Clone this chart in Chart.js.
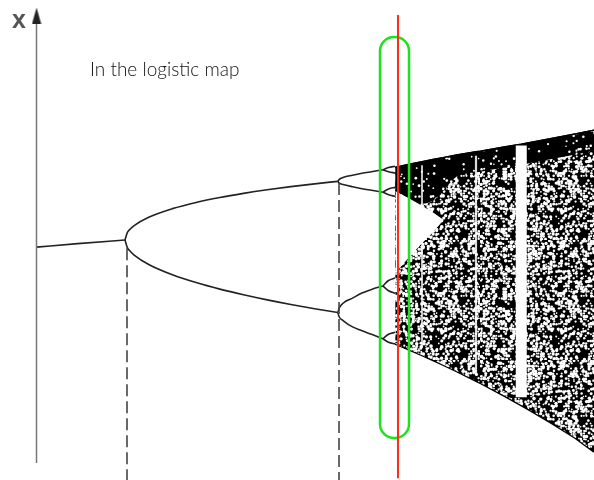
<!DOCTYPE html>
<html>
<head>
<meta charset="utf-8">
<script src="https://cdn.jsdelivr.net/npm/chart.js@4.4.1/dist/chart.umd.min.js"></script>
<style>
  html, body { margin: 0; padding: 0; background: #fff; }
  #wrap { width: 594px; height: 480px; }
</style>
</head>
<body>
<div id="wrap"><canvas id="bifurcation" width="594" height="480"></canvas></div>
<script>
// growth rate r on the horizontal, long-run value x on the vertical
const rPeriod1 = [2.8133, 2.9, 3.0];
const xPeriod1 = [0.6444, 0.6552, 0.6667];

const rPeriod2 = [3.0, 3.005, 3.01, 3.02, 3.05, 3.1, 3.15, 3.2, 3.25, 3.3, 3.35, 3.4, 3.449];
const xPeriod2Upper = [0.6667, 0.6899, 0.6994, 0.7125, 0.7377, 0.7646, 0.784, 0.7995, 0.8124, 0.8236, 0.8334, 0.8421, 0.8499];
const xPeriod2Lower = [0.6667, 0.6428, 0.6329, 0.6186, 0.5902, 0.558, 0.5335, 0.513, 0.4953, 0.4794, 0.4651, 0.452, 0.4401];

const rPeriod4 = [3.449, 3.452, 3.46, 3.48, 3.5, 3.52, 3.544];
const xPeriod4A = [0.8499, 0.856, 0.862, 0.869, 0.875, 0.88, 0.886];
const xPeriod4B = [0.8499, 0.844, 0.84, 0.833, 0.827, 0.822, 0.816];
const xPeriod4C = [0.4401, 0.454, 0.469, 0.485, 0.501, 0.512, 0.523];
const xPeriod4D = [0.4401, 0.426, 0.415, 0.395, 0.383, 0.372, 0.358];

const rPeriod8 = [3.544, 3.556, 3.57];
const xPeriod8 = [
  [0.886, 0.893, 0.897], [0.886, 0.88, 0.876],
  [0.816, 0.826, 0.831], [0.816, 0.808, 0.803],
  [0.523, 0.54, 0.548], [0.523, 0.508, 0.5],
  [0.358, 0.372, 0.378], [0.358, 0.347, 0.342]
];

// chaotic region: outer envelope
const rChaos = [3.57, 3.6, 3.627, 3.65, 3.671, 3.7, 3.741, 3.75, 3.8, 3.836, 3.85, 3.9, 3.95, 3.99];
const xChaosTop = [0.893, 0.903, 0.911, 0.918, 0.924, 0.932, 0.942, 0.944, 0.957, 0.966, 0.97, 0.984, 0.998, 1.01];
const xChaosBottom = [0.3425, 0.324, 0.3067, 0.2914, 0.2771, 0.2567, 0.2265, 0.2197, 0.1805, 0.1508, 0.139, 0.0951, 0.0488, 0.005];
const xDenseBottom = [0.8, 0.785, 0.78, 0.79, 0.82, 0.865, 0.878, 0.88, 0.893, 0.902, 0.906, 0.92, 0.934, 0.946];

// gap between the two chaotic bands before they merge
const rGap = [3.571, 3.597, 3.622, 3.648, 3.671];
const xGapTop = [0.817, 0.797, 0.776, 0.753, 0.729];
const xGapBottom = [0.567, 0.61, 0.651, 0.69, 0.729];

// periodic windows inside the chaos
const rWindows = [3.6266, 3.7405, 3.836];
const xWindowTop = [0.9, 0.93, 0.962];
const xWindowBottom = [0.33, 0.245, 0.175];
const windowWidths = [1.8, 2.2, 11];

// period-doubling points marked with dashed drops
const rDoubling = [3.0042, 3.4515];
const xDoubling = [0.641, 0.845];

const rCut = 3.5759;
const lens = { r0: 3.538, r1: 3.5992, top: 1.301, bottom: 0.048 };

const pts = (rs, xs) => rs.map((r, i) => ({ x: r, y: xs[i] }));

function hash(i, j, seed) {
  let n = Math.imul(i, 374761393) + Math.imul(j, 668265263) + Math.imul(seed, 2246822519);
  n = Math.imul(n ^ (n >>> 13), 1274126177);
  n = n ^ (n >>> 16);
  return (n >>> 0) / 4294967296;
}

// grainy ink texture: black with white flecks
function speckle(whiteShare, seed, maxRad) {
  const size = 120, cell = 2.5;
  const c = document.createElement("canvas");
  c.width = c.height = size;
  const g = c.getContext("2d");
  g.fillStyle = "#000";
  g.fillRect(0, 0, size, size);
  g.fillStyle = "#fff";
  const n = size / cell;
  for (let i = 0; i < n; i++) {
    for (let j = 0; j < n; j++) {
      if (hash(i, j, seed) < whiteShare) {
        const jx = (hash(j, i, seed + 7) - 0.5) * 1.4;
        const jy = (hash(i + 3, j + 5, seed) - 0.5) * 1.4;
        const rad = 0.8 + hash(i, j + 11, seed + 3) * (maxRad - 0.8);
        g.beginPath();
        g.arc(i * cell + 1.25 + jx, j * cell + 1.25 + jy, rad, 0, Math.PI * 2);
        g.fill();
      }
    }
  }
  return g.createPattern(c, "repeat");
}

// arrow head for the vertical axis
const arrow = document.createElement("canvas");
arrow.width = 10;
arrow.height = 16;
(() => {
  const g = arrow.getContext("2d");
  g.fillStyle = "#222";
  g.beginPath();
  g.moveTo(5, 0);
  g.lineTo(9.5, 16);
  g.lineTo(0.5, 16);
  g.closePath();
  g.fill();
})();

const ink = "#222";
const curve = (data, order) => ({
  data, order,
  borderColor: ink, borderWidth: 1.6,
  pointRadius: 0, fill: false,
  cubicInterpolationMode: "monotone"
});

const datasets = [];

// whole chaotic envelope
datasets.push({
  data: pts(rChaos, xChaosTop), order: 20, fill: "+1",
  backgroundColor: speckle(0.55, 1, 1.9),
  borderColor: "#000", borderWidth: 1.5, pointRadius: 0
});
datasets.push({
  data: pts(rChaos, xChaosBottom), order: 20, fill: false,
  borderColor: "#000", borderWidth: 2.5, pointRadius: 0
});
// dense strip under the upper edge
datasets.push({
  data: pts(rChaos, xChaosTop), order: 19, fill: "+1",
  backgroundColor: speckle(0.1, 5, 1.4),
  borderColor: "#000", borderWidth: 1.5, pointRadius: 0
});
datasets.push({
  data: pts(rChaos, xDenseBottom), order: 19, fill: false,
  borderColor: "rgba(0,0,0,0)", borderWidth: 0, pointRadius: 0,
  cubicInterpolationMode: "monotone"
});
// gap between bands
datasets.push({
  data: pts(rGap, xGapTop), order: 18, fill: "+1",
  backgroundColor: "#fff",
  borderColor: "#fff", borderWidth: 1, pointRadius: 0
});
datasets.push({
  data: pts(rGap, xGapBottom), order: 18, fill: false,
  borderColor: "#fff", borderWidth: 1, pointRadius: 0
});

rWindows.forEach((r, i) => {
  datasets.push({
    data: [{ x: r, y: xWindowTop[i] }, { x: r, y: xWindowBottom[i] }],
    order: 17, fill: false, pointRadius: 0,
    borderColor: i === 2 ? "#fff" : "rgba(255,255,255,0.85)",
    borderWidth: windowWidths[i]
  });
});

datasets.push(curve(pts(rPeriod1, xPeriod1), 10));
datasets.push(curve(pts(rPeriod2, xPeriod2Upper), 10));
datasets.push(curve(pts(rPeriod2, xPeriod2Lower), 10));
[xPeriod4A, xPeriod4B, xPeriod4C, xPeriod4D].forEach((xs) => datasets.push(curve(pts(rPeriod4, xs), 10)));
xPeriod8.forEach((xs) => datasets.push(curve(pts(rPeriod8, xs), 10)));

rDoubling.forEach((r, i) => {
  datasets.push({
    data: [{ x: r, y: xDoubling[i] }, { x: r, y: -0.09 }],
    order: 9, fill: false, pointRadius: 0,
    borderColor: "#444", borderWidth: 1.6, borderDash: [12, 5]
  });
});

// vertical axis with arrow
datasets.push({
  data: [{ x: 2.8133, y: -0.03 }, { x: 2.8133, y: 1.368 }],
  order: 8, fill: false,
  borderColor: "#777", borderWidth: 1.5,
  pointRadius: (c) => (c.dataIndex === 1 ? 6 : 0),
  pointStyle: arrow
});

const overlay = {
  id: "overlay",
  afterDatasetsDraw(chart) {
    const { ctx } = chart;
    const sx = chart.scales.x, sy = chart.scales.y;
    ctx.save();

    // highlighted slice
    const left = sx.getPixelForValue(lens.r0);
    const right = sx.getPixelForValue(lens.r1);
    const top = sy.getPixelForValue(lens.top);
    const bottom = sy.getPixelForValue(lens.bottom);
    ctx.strokeStyle = "#1fe21f";
    ctx.lineWidth = 2.5;
    ctx.beginPath();
    ctx.roundRect(left, top, right - left, bottom - top, 14);
    ctx.stroke();

    // cut at a single r
    const cx = sx.getPixelForValue(rCut);
    ctx.strokeStyle = "#ff2a17";
    ctx.lineWidth = 2;
    ctx.beginPath();
    ctx.moveTo(cx, sy.getPixelForValue(1.37));
    ctx.lineTo(cx, sy.getPixelForValue(-0.078));
    ctx.stroke();

    ctx.fillStyle = "#111";
    ctx.font = '300 19px Lato, "Liberation Sans", sans-serif';
    ctx.textBaseline = "alphabetic";
    ctx.fillText("In the logistic map", 90, 76);

    ctx.fillStyle = "#555";
    ctx.font = 'bold 25px "Liberation Sans Narrow", "Liberation Sans", sans-serif';
    ctx.fillText("x", 12, 28);
    ctx.restore();
  }
};

new Chart(document.getElementById("bifurcation"), {
  type: "line",
  data: { datasets },
  plugins: [overlay],
  options: {
    responsive: false,
    animation: false,
    events: [],
    layout: { padding: 0, autoPadding: false },
    scales: {
      x: { type: "linear", min: 2.73629, max: 3.98945, display: false },
      y: { type: "linear", min: -0.0834, max: 1.41656, display: false }
    },
    plugins: {
      legend: { display: false },
      tooltip: { enabled: false }
    }
  }
});
</script>
</body>
</html>
